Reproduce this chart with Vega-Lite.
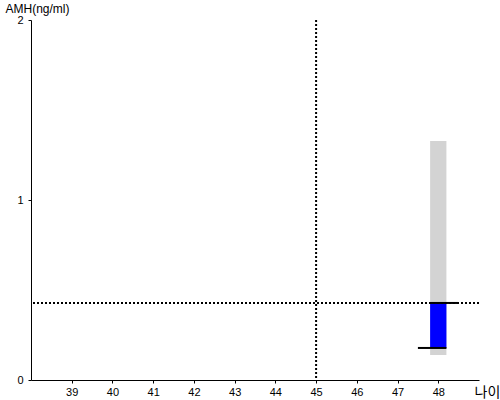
{
  "$schema": "https://vega.github.io/schema/vega-lite/v6.json",
  "width": 448,
  "height": 360,
  "autosize": {"type": "none"},
  "padding": {"left": 31, "top": 20, "right": 21, "bottom": 20},
  "background": "white",
  "config": {
    "view": {"stroke": null},
    "axis": {
      "grid": false,
      "domainColor": "black",
      "tickColor": "black",
      "tickSize": 3,
      "labelFont": "Liberation Sans",
      "labelFontSize": 11,
      "labelColor": "black",
      "labelOverlap": false,
      "titleFont": "Liberation Sans",
      "titleFontWeight": "normal",
      "titleColor": "black"
    }
  },
  "datasets": {
    "range": [{"age_lo": 47.8, "age_hi": 48.2, "lo": 0.139, "hi": 1.328}],
    "value": [{"age_lo": 47.8, "age_hi": 48.2, "lo": 0.178, "hi": 0.428}],
    "marks": [
      {"x1": 47.8, "x2": 48.5, "y": 0.428},
      {"x1": 47.5, "x2": 48.2, "y": 0.178}
    ],
    "ref": [{"age": 45, "amh": 0.428}]
  },
  "layer": [
    {
      "data": {"name": "range"},
      "mark": {"type": "rect", "color": "#d3d3d3"},
      "encoding": {
        "x": {
          "field": "age_lo", "type": "quantitative",
          "scale": {"domain": [38, 49], "nice": false, "zero": false},
          "axis": {
            "values": [39, 40, 41, 42, 43, 44, 45, 46, 47, 48],
            "format": ".0f",
            "title": "나이",
            "titleFont": "Noto Sans CJK KR",
            "titleFontSize": 14,
            "titleAngle": 0,
            "titleAlign": "left",
            "titleBaseline": "middle",
            "titleX": 443,
            "titleY": 12,
            "labelPadding": 3
          }
        },
        "x2": {"field": "age_hi"},
        "y": {
          "field": "lo", "type": "quantitative",
          "scale": {"domain": [0, 2], "nice": false},
          "axis": {
            "values": [0, 1, 2],
            "format": ".0f",
            "title": "AMH(ng/ml)",
            "titleFontSize": 12,
            "titleAngle": 0,
            "titleAlign": "left",
            "titleBaseline": "middle",
            "titleX": -26,
            "titleY": -12,
            "labelPadding": 5
          }
        },
        "y2": {"field": "hi"}
      }
    },
    {
      "data": {"name": "value"},
      "mark": {"type": "rect", "color": "#0000ff"},
      "encoding": {
        "x": {"field": "age_lo", "type": "quantitative"},
        "x2": {"field": "age_hi"},
        "y": {"field": "lo", "type": "quantitative"},
        "y2": {"field": "hi"}
      }
    },
    {
      "data": {"name": "ref"},
      "mark": {"type": "rule", "color": "black", "strokeWidth": 2, "strokeDash": [2, 2]},
      "encoding": {"y": {"field": "amh", "type": "quantitative"}}
    },
    {
      "data": {"name": "ref"},
      "mark": {"type": "rule", "color": "black", "strokeWidth": 2, "strokeDash": [2, 2]},
      "encoding": {"x": {"field": "age", "type": "quantitative"}}
    },
    {
      "data": {"name": "marks"},
      "mark": {"type": "rule", "color": "black", "strokeWidth": 2},
      "encoding": {
        "x": {"field": "x1", "type": "quantitative"},
        "x2": {"field": "x2"},
        "y": {"field": "y", "type": "quantitative"}
      }
    }
  ]
}
